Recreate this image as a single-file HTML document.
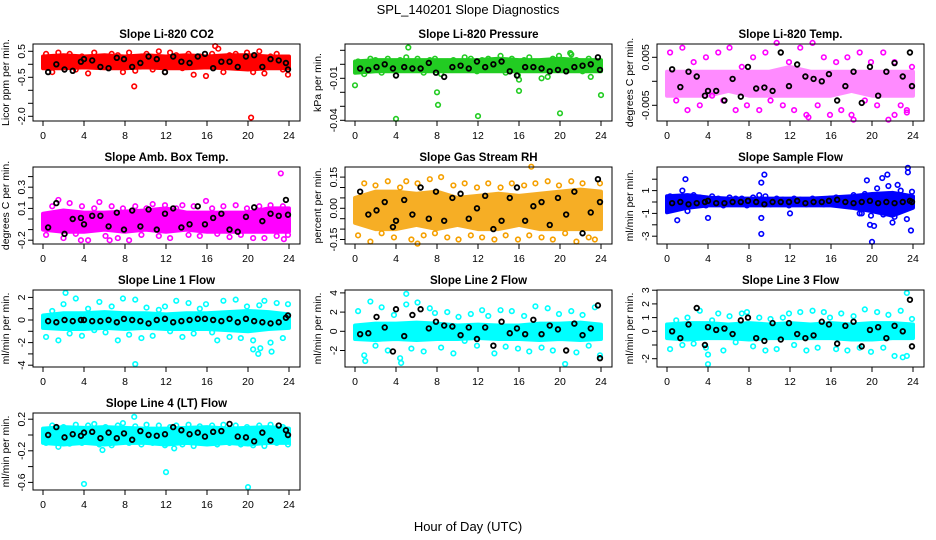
<!DOCTYPE html>
<html><head><meta charset="utf-8"><style>
body{margin:0;background:#fff;}
svg{display:block;font-family:"Liberation Sans",sans-serif;}
</style></head><body>
<svg id="chart" width="936" height="540" viewBox="0 0 936 540" xmlns="http://www.w3.org/2000/svg">
<rect width="936" height="540" fill="#fff"/>
<text x="468" y="14" text-anchor="middle" font-size="13">SPL_140201  Slope Diagnostics</text>
<text x="468" y="531" text-anchor="middle" font-size="13">Hour of Day (UTC)</text>
</svg>
<script>
const bandT=[0,2,4,6,8,10,12,14,16,18,20,22,24];
const spreadT=[0.3,0.9,1.5,2.0,2.6,3.2,3.8,4.4,5.0,5.5,6.1,6.7,7.3,7.8,8.4,9.0,9.6,10.1,10.7,11.3,11.9,12.4,13.0,13.6,14.2,14.7,15.3,15.9,16.5,17.0,17.6,18.2,18.8,19.3,19.9,20.5,21.1,21.6,22.2,22.8,23.4,23.9];
const blackT=[0.5,1.3,2.1,2.9,3.7,4.0,4.8,5.6,6.4,7.2,7.9,8.7,9.5,10.3,11.1,11.9,12.7,13.5,14.3,15.1,15.8,16.6,17.4,18.2,19.0,19.8,20.6,21.4,22.2,23.0,23.7,23.9];
const xTicks=[0,4,8,12,16,20,24];

const co2Lo=[-0.15,-0.15,-0.12,-0.15,-0.15,-0.12,-0.15,-0.15,-0.12,-0.15,-0.2,-0.15,-0.15];
const co2Hi=[0.3,0.35,0.3,0.35,0.3,0.35,0.3,0.35,0.3,0.35,0.35,0.3,0.3];
const co2Spread=[0.4,-0.3,0.45,0.1,0.4,-0.2,0.3,-0.35,0.45,0.2,-0.1,0.4,0.35,-0.3,0.45,-0.25,0.3,0.4,-0.2,0.5,-0.3,0.45,0.35,-0.15,0.4,-0.4,0.3,-0.45,0.4,0.2,-0.3,0.35,0.4,-0.1,0.45,-0.3,0.5,-0.35,0.3,0.4,-0.2,-0.4];
const co2OutT=[8.9,16.8,17.1,20.3];
const co2OutV=[-0.85,0.7,0.6,-2.05];
const co2Black=[-0.3,0,-0.2,-0.25,0.1,0.2,0.15,-0.1,-0.15,0.25,0.2,-0.1,0.05,0.3,0.2,-0.3,0.3,0.1,0.05,0.3,0.4,-0.15,0.1,0.1,-0.1,0.3,0.35,-0.1,0.2,0.15,0.05,-0.2];
const co2Ticks=[0.5,0,-0.5,-1,-1.5,-2];
const co2Labels=["0.5","","-0.5","","","-2.0"];

const presLo=[-0.006,-0.005,-0.005,-0.005,-0.005,-0.005,-0.005,-0.005,-0.005,-0.005,-0.005,-0.005,-0.005];
const presHi=[0.002,0.003,0.003,0.003,0.003,0.003,0.003,0.004,0.003,0.003,0.004,0.003,0.003];
const presSpread=[0.002,-0.007,0.004,0.003,-0.006,0.004,-0.004,0.003,0.005,-0.003,0.004,-0.006,0.003,0.004,-0.007,0.002,0.003,-0.004,0.005,0.004,-0.005,0.003,0.004,-0.003,0.006,-0.006,0.004,-0.008,0.003,0.005,-0.004,0.002,-0.009,0.004,0.006,-0.004,0.007,0.003,-0.005,0.004,0.002,-0.003];
const presOutT=[0,4,5.2,8,8.1,12,16,16,18.2,20,21,23,24];
const presOutV=[-0.015,-0.039,0.012,-0.020,-0.029,-0.037,-0.011,-0.019,-0.010,-0.035,0.008,-0.009,-0.022];
const presBlack=[-0.003,-0.004,-0.002,0,-0.003,-0.008,-0.002,-0.003,-0.003,0.001,-0.006,-0.009,-0.002,-0.001,-0.003,0.002,-0.002,0,0.002,-0.005,-0.008,-0.002,-0.002,-0.003,-0.005,-0.004,-0.005,-0.002,-0.001,0,0.005,-0.004];
const presTicks=[0.01,0,-0.01,-0.02,-0.03,-0.04];
const presLabels=["","","-0.01","","","-0.04"];

const tempLo=[-0.003,-0.003,-0.003,-0.002,-0.003,-0.003,-0.003,-0.003,-0.003,-0.002,-0.003,-0.003,-0.003];
const tempHi=[0.002,0.002,0.002,0.002,0.002,0.002,0.003,0.002,0.002,0.002,0.002,0.002,0.002];
const tempSpread=[0.006,-0.004,0.007,-0.006,0.004,-0.005,0.005,-0.003,0.006,-0.004,0.007,-0.006,0.003,-0.005,0.005,-0.006,0.006,-0.004,0.008,-0.005,0.004,-0.006,0.007,-0.007,0.008,-0.005,0.005,-0.007,0.004,-0.006,0.005,-0.008,0.006,-0.004,0.004,-0.005,0.006,-0.008,0.004,-0.005,-0.006,0.003];
const tempOutT=[13.8,22.2,23.4,18];
const tempOutV=[-0.0075,-0.007,-0.0065,-0.007];
const tempBlack=[0.0025,-0.0012,0.002,0.001,-0.003,-0.002,-0.002,-0.004,0.0005,-0.0032,0.003,-0.0015,-0.0013,-0.002,0.006,-0.001,0.0035,0.001,0.0005,0,0.0015,-0.004,-0.001,0.002,-0.0045,0.003,-0.003,0.002,0.0038,0.001,0.006,-0.001];
const tempTicks=[0.005,0,-0.005];
const tempLabels=["0.005","","-0.005"];

const ambLo=[-0.1,-0.12,-0.12,-0.1,-0.12,-0.1,-0.12,-0.1,-0.12,-0.12,-0.12,-0.12,-0.12];
const ambHi=[0.05,0.08,0.06,0.06,0.07,0.08,0.1,0.06,0.06,0.06,0.06,0.1,0.1];
const ambSpread=[-0.15,0.12,0.18,-0.18,0.15,-0.14,0.12,-0.2,0.1,0.16,-0.16,0.12,-0.18,0.1,-0.2,0.12,-0.15,0.1,0.14,-0.16,0.13,-0.18,0.1,0.13,-0.15,0.12,-0.16,0.17,0.1,-0.14,0.12,-0.17,0.13,-0.15,0.1,-0.18,0.12,-0.18,0.13,-0.16,0.12,-0.15];
const ambOutT=[23.2,3.7,6.5,23.5];
const ambOutV=[0.43,-0.2,-0.2,-0.19];
const ambBlack=[-0.08,0.15,-0.14,0,0.01,-0.05,0.03,0.03,-0.07,0.06,-0.1,0.08,-0.07,0.09,-0.1,0.05,0.1,-0.08,-0.05,0.12,-0.05,0.01,0.05,-0.1,-0.12,0.02,0.11,-0.02,0.05,0.03,0.18,0.04];
const ambTicks=[0.4,0.3,0.2,0.1,0,-0.1,-0.2];
const ambLabels=["","0.3","","0.1","","","-0.2"];

const rhLo=[-0.07,-0.1,-0.1,-0.08,-0.1,-0.08,-0.1,-0.1,-0.08,-0.1,-0.1,-0.1,-0.1];
const rhHi=[0.05,0.08,0.08,0.07,0.08,0.05,0.06,0.07,0.06,0.07,0.08,0.09,0.08];
const rhSpread=[-0.13,0.12,-0.16,0.11,-0.12,0.13,-0.14,0.1,0.13,-0.15,0.12,-0.13,0.14,-0.12,0.15,-0.14,0.11,-0.15,0.12,-0.13,0.1,-0.14,0.12,-0.15,0.1,-0.13,0.12,-0.15,0.11,-0.13,0.12,-0.14,0.13,-0.15,0.11,-0.12,0.13,-0.16,0.12,-0.14,-0.15,0.12];
const rhOutT=[17.2,6.1];
const rhOutV=[0.2,-0.17];
const rhBlack=[0.08,-0.03,-0.01,0.03,-0.09,-0.06,0.04,-0.03,0.1,-0.05,0.08,-0.06,0.05,0.07,-0.05,0,0.06,-0.1,-0.06,0.05,0.1,-0.06,0.01,0.03,-0.08,0.05,-0.03,0.08,-0.12,-0.02,0.14,0.03];
const rhTicks=[0.15,0.1,0.05,0,-0.05,-0.1,-0.15];
const rhLabels=["0.15","","","0.00","","","-0.15"];

const sampLo=[-0.9,-0.5,-0.3,-0.3,-0.3,-0.3,-0.3,-0.3,-0.3,-0.5,-0.8,-1.2,-0.5];
const sampHi=[0.5,0.6,0.4,0.3,0.3,0.3,0.3,0.3,0.4,0.5,0.7,0.8,0.5];
const sampSpread=[0.5,-0.6,1.0,-0.8,0.6,0.4,-0.3,0.5,0.3,-0.3,0.4,0.3,0.3,-0.3,0.4,0.6,0.5,-0.2,0.3,0.2,-0.3,0.3,0.2,-0.2,0.3,0.2,-0.2,0.3,0.4,0.2,-0.3,0.6,-1.0,0.7,-1.2,1.2,-1.1,1.4,-1.3,1.0,-1.5,0.9];
const sampOutT=[1.8,1.0,4.0,9.2,9.2,9.2,9.5,12.0,19.5,19.8,20.2,20.0,21.0,21.5,22.0,23.5,23.5,23.8,19.0,22.5];
const sampOutV=[2.0,-1.6,-1.4,1.7,-1.4,-2.8,2.4,-1.0,1.9,-2.0,-2.1,-3.5,2.1,2.4,-1.8,3.0,2.6,-2.5,-1.0,1.5];
const sampBlack=[-0.1,0,-0.2,-0.1,0,0.1,-0.1,-0.1,0,0,0.1,0,-0.2,0,0,0,0.1,-0.1,0,0,0.1,0.2,0,-0.1,0,0.1,-0.1,0,-0.1,0,0.1,0];
const sampTicks=[2,1,0,-1,-2,-3];
const sampLabels=["","1","","-1","","-3"];

const l1Lo=[-0.7,-0.8,-0.8,-0.7,-0.8,-0.7,-0.8,-0.8,-0.8,-0.9,-1.0,-0.8,-0.7];
const l1Hi=[0.4,0.6,0.6,0.7,0.6,0.6,0.5,0.6,0.6,0.7,0.8,0.7,0.5];
const l1Spread=[-1.5,0.8,-1.8,1.4,-1.2,1.9,-1.4,1.0,-0.9,1.6,-1.1,1.2,-1.8,1.9,-1.3,1.8,-1.6,1.1,-1.4,0.9,1.2,-1.0,1.7,-1.5,1.5,-1.2,1.0,1.4,-1.1,-1.8,1.7,-1.5,1.8,-1.6,1.2,-1.8,1.3,1.7,-2.0,1.5,-1.6,1.4];
const l1OutT=[2.2,9.0,20.5,21.0,22.3,21.2];
const l1OutV=[2.4,-3.9,-2.6,-3.0,-2.8,-2.5];
const l1Black=[-0.1,-0.2,0,-0.1,0,0,-0.1,-0.1,0,-0.2,0.1,0,-0.1,-0.3,0,0.1,-0.2,-0.1,0,0.1,0.1,0,-0.1,0.1,-0.2,0.1,-0.1,-0.2,-0.3,-0.2,0.2,0.4];
const l1Ticks=[2,1,0,-1,-2,-3,-4];
const l1Labels=["2","","0","","-2","","-4"];

const l2Lo=[-0.8,-0.9,-0.8,-0.9,-0.8,-0.8,-0.7,-0.8,-0.8,-0.9,-0.8,-0.9,-0.8];
const l2Hi=[0.6,0.8,0.8,0.9,0.8,0.6,0.7,0.6,0.6,0.8,0.8,0.9,0.7];
const l2Spread=[2.1,-2.5,3.1,-1.5,2.5,-2.0,1.7,-2.8,2.8,-1.8,3.0,-2.1,2.4,1.9,-1.7,2.0,-2.3,1.5,-1.0,1.8,-1.5,2.2,1.6,-2.3,2.2,-1.6,2.1,-1.8,1.6,-2.1,2.6,-1.7,2.4,-2.0,1.8,-3.4,2.1,-2.2,1.7,-1.5,2.5,-2.5];
const l2OutT=[5.0,4.5,1.0];
const l2OutV=[3.9,-3.3,-3.1];
const l2Black=[-0.3,-0.2,1.5,0.4,-2.1,2.3,-0.5,1.7,2.3,0.3,1.0,0.6,0.5,-0.4,0.4,-0.8,0.4,-1.5,1.0,-0.2,0.3,-0.3,1.2,-0.3,0.6,0.2,-2.0,0.8,-0.4,0.3,2.7,-2.8];
const l2Ticks=[4,2,0,-2];
const l2Labels=["4","2","0","-2"];

const l3Lo=[-0.5,-0.6,-0.5,-0.5,-0.6,-0.5,-0.5,-0.5,-0.5,-0.6,-0.6,-0.5,-0.5];
const l3Hi=[0.5,0.6,0.6,0.5,0.6,0.5,0.6,0.5,0.6,0.5,0.6,0.6,0.5];
const l3Spread=[-1.3,0.8,-1.0,1.0,-0.9,1.5,-1.2,0.8,1.3,-1.4,1.1,-0.8,1.3,1.4,-1.1,1.0,-1.4,0.9,-1.3,1.0,1.3,-1.0,1.4,-1.4,1.5,-1.2,1.4,1.0,-1.3,1.3,-1.4,1.1,-1.2,1.6,-1.5,1.4,-1.2,1.2,-1.8,1.5,-1.8,0.9];
const l3OutT=[4.0,4.0,23.4,23.0];
const l3OutV=[-1.7,-2.4,2.8,-1.9];
const l3Black=[0,-0.5,0.5,1.7,-1.0,0.3,0.1,0.2,-0.2,0.8,1.0,-0.5,-0.7,0.6,-0.6,0.6,-0.2,-0.5,-0.3,0.7,0.5,-0.9,0.4,0.7,-1.1,0.1,0.3,-0.5,0.4,0,2.3,-1.1];
const l3Ticks=[3,2,1,0,-1,-2];
const l3Labels=["3","2","1","0","","-2"];

const l4Lo=[-0.1,-0.12,-0.1,-0.12,-0.1,-0.1,-0.12,-0.1,-0.12,-0.1,-0.12,-0.1,-0.1];
const l4Hi=[0.08,0.1,0.09,0.1,0.09,0.08,0.08,0.09,0.1,0.08,0.09,0.1,0.08];
const l4Spread=[-0.1,0.12,-0.15,0.1,-0.11,0.13,-0.1,0.12,0.14,-0.12,0.1,-0.13,0.12,0.15,-0.1,0.11,-0.12,0.13,-0.1,0.12,-0.13,0.1,0.12,-0.12,0.13,-0.14,0.11,-0.1,0.12,-0.12,0.13,-0.1,0.12,-0.12,0.1,-0.13,0.12,-0.14,0.13,-0.1,0.1,-0.12];
const l4OutT=[4.0,12.0,20.0,5.8,8.9,12.8];
const l4OutV=[-0.62,-0.47,-0.66,-0.19,0.23,-0.17];
const l4Black=[0,0.1,-0.03,0.01,-0.01,0.03,0.04,-0.04,0.03,-0.04,0.02,-0.06,0.05,0,-0.01,0.01,0.1,0.06,0.01,0.03,-0.02,0.04,0.05,0.14,-0.02,-0.03,-0.08,0.03,-0.07,0.12,0.06,0];
const l4Ticks=[0.2,0,-0.2,-0.4,-0.6];
const l4Labels=["0.2","","-0.2","","-0.6"];

// layout: [name, title, ytitle, col, row, color, bandOpacity, yAt0(px), pxPerUnit, lo, hi, spread, outT, outV, black, ticks, labels]
const panels=[
 ["co2","Slope Li-820 CO2","Licor ppm per min.",0,0,"#ff0000",1,64.3,26,co2Lo,co2Hi,co2Spread,co2OutT,co2OutV,co2Black,co2Ticks,co2Labels],
 ["pressure","Slope Li-820 Pressure","kPa per min.",1,0,"#22cc22",1,64.3,1400,presLo,presHi,presSpread,presOutT,presOutV,presBlack,presTicks,presLabels],
 ["li820-temp","Slope Li-820 Temp.","degrees C per min.",2,0,"#ff00ff",0.45,81.3,4800,tempLo,tempHi,tempSpread,tempOutT,tempOutV,tempBlack,tempTicks,tempLabels],
 ["amb-box-temp","Slope Amb. Box Temp.","degrees C per min.",0,1,"#ff00ff",1,219,106,ambLo,ambHi,ambSpread,ambOutT,ambOutV,ambBlack,ambTicks,ambLabels],
 ["gas-stream-rh","Slope Gas Stream RH","percent per min.",1,1,"#f5a000",0.85,208.3,208,rhLo,rhHi,rhSpread,rhOutT,rhOutV,rhBlack,rhTicks,rhLabels],
 ["sample-flow","Slope Sample Flow","ml/min per min.",2,1,"#0000ff",1,202,11.4,sampLo,sampHi,sampSpread,sampOutT,sampOutV,sampBlack,sampTicks,sampLabels],
 ["line1-flow","Slope Line 1 Flow","ml/min per min.",0,2,"#00ffff",1,320,11.3,l1Lo,l1Hi,l1Spread,l1OutT,l1OutV,l1Black,l1Ticks,l1Labels],
 ["line2-flow","Slope Line 2 Flow","ml/min per min.",1,2,"#00ffff",1,331.3,9.6,l2Lo,l2Hi,l2Spread,l2OutT,l2OutV,l2Black,l2Ticks,l2Labels],
 ["line3-flow","Slope Line 3 Flow","ml/min per min.",2,2,"#00ffff",1,331.3,13.7,l3Lo,l3Hi,l3Spread,l3OutT,l3OutV,l3Black,l3Ticks,l3Labels],
 ["line4-flow","Slope Line 4 (LT) Flow","ml/min per min.",0,3,"#00ffff",1,435,79,l4Lo,l4Hi,l4Spread,l4OutT,l4OutV,l4Black,l4Ticks,l4Labels]
];
const colLeft=[33,345,657], rowTop=[44,167,290,413], boxW=267, boxH=77;
const NS="http://www.w3.org/2000/svg";
const svg=document.getElementById('chart');
function mk(tag,attrs,parent){const e=document.createElementNS(NS,tag);for(const k in attrs)e.setAttribute(k,attrs[k]);parent.appendChild(e);return e;}

panels.forEach(p=>{
  const [name,title,ytitle,col,row,color,bandOp,y0,ppu,lo,hi,spread,outT,outV,black,ticks,labels]=p;
  const L=colLeft[col],T=rowTop[row];
  const xs=h=>L+10+h*(246/24);
  const ys=v=>y0-v*ppu;
  const g=mk('g',{},svg);
  
  
  const t=mk('text',{x:L+boxW/2,y:T-6,'text-anchor':'middle','font-size':'11.5','font-weight':'bold'},g);
  t.textContent=title;
  
  
  const yt=mk('text',{transform:`translate(${L-24},${T+boxH/2}) rotate(-90)`,'text-anchor':'middle','font-size':'10.5'},g);
  yt.textContent=ytitle;
  
  
  let pts=bandT.map((h,i)=>xs(h)+','+ys(hi[i]));
  pts=pts.concat(bandT.map((h,i)=>xs(h)+','+ys(lo[i])).reverse());
  const band=mk('polygon',{points:pts.join(' '),fill:color,stroke:color,'stroke-width':'4','stroke-linejoin':'round',opacity:bandOp},g);
  
  
  const pt=(h,v,c,w,nm)=>{const c1=mk('circle',{cx:xs(h),cy:ys(v),r:2.3,fill:'none',stroke:c,'stroke-width':w},g);
    
    };
  spreadT.forEach((h,i)=>pt(h,spread[i],color,1.6,'data-point'));
  outT.forEach((h,i)=>pt(h,outV[i],color,1.6,'outlier-point'));
  blackT.forEach((h,i)=>pt(h,black[i],'#000',1.8,'reference-point'));
  const box=mk('rect',{x:L,y:T,width:boxW,height:boxH,fill:'none',stroke:'#000','stroke-width':1},g);
  
  
  ticks.forEach((v,i)=>{
    const y=ys(v);
    mk('line',{x1:L-5,x2:L,y1:y,y2:y,stroke:'#000'},g);
    if(labels[i]){const tl=mk('text',{transform:`translate(${L-8},${y}) rotate(-90)`,'text-anchor':'middle','font-size':'10.5'},g);
      tl.textContent=labels[i];
      
      }
  });
  xTicks.forEach(h=>{
    const x=xs(h);
    mk('line',{x1:x,x2:x,y1:T+boxH,y2:T+boxH+5,stroke:'#000'},g);
    const tl=mk('text',{x:x,y:T+boxH+18,'text-anchor':'middle','font-size':'10.5'},g);
    tl.textContent=h;
    
    
  });
});
</script>
</body></html>
